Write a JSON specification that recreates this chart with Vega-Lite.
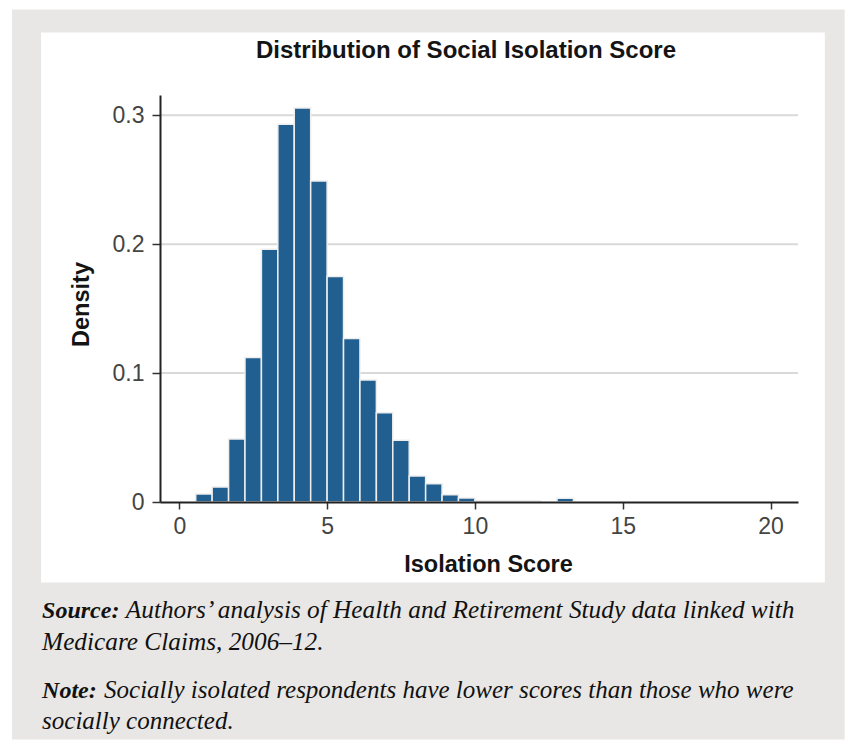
{
  "$schema": "https://vega.github.io/schema/vega-lite/v6.json",
  "width": 638,
  "height": 407,
  "autosize": {"type": "none"},
  "padding": {"left": 160, "top": 95, "right": 47, "bottom": 240},
  "background": "white",
  "config": {"view": {"stroke": null}, "font": "Liberation Sans"},
  "title": {
    "text": "Distribution of Social Isolation Score",
    "fontSize": 24,
    "fontWeight": "bold",
    "font": "Liberation Sans",
    "color": "#141414",
    "anchor": "middle",
    "frame": "group",
    "baseline": "alphabetic",
    "offset": -72,
    "dx": -13
  },
  "data": {
    "values": [
      {"bin_start": 0.5556, "bin_end": 1.1111, "density": 0.0062},
      {"bin_start": 1.1111, "bin_end": 1.6667, "density": 0.0116},
      {"bin_start": 1.6667, "bin_end": 2.2222, "density": 0.0489},
      {"bin_start": 2.2222, "bin_end": 2.7778, "density": 0.112},
      {"bin_start": 2.7778, "bin_end": 3.3333, "density": 0.196},
      {"bin_start": 3.3333, "bin_end": 3.8889, "density": 0.293},
      {"bin_start": 3.8889, "bin_end": 4.4444, "density": 0.3056},
      {"bin_start": 4.4444, "bin_end": 5.0, "density": 0.249},
      {"bin_start": 5.0, "bin_end": 5.5556, "density": 0.175},
      {"bin_start": 5.5556, "bin_end": 6.1111, "density": 0.1268},
      {"bin_start": 6.1111, "bin_end": 6.6667, "density": 0.0947},
      {"bin_start": 6.6667, "bin_end": 7.2222, "density": 0.0693},
      {"bin_start": 7.2222, "bin_end": 7.7778, "density": 0.0479},
      {"bin_start": 7.7778, "bin_end": 8.3333, "density": 0.0202},
      {"bin_start": 8.3333, "bin_end": 8.8889, "density": 0.0142},
      {"bin_start": 8.8889, "bin_end": 9.4444, "density": 0.0057},
      {"bin_start": 9.4444, "bin_end": 10.0, "density": 0.0031},
      {"bin_start": 10.0, "bin_end": 10.5556, "density": 0.0009},
      {"bin_start": 10.5556, "bin_end": 11.1111, "density": 0.0009},
      {"bin_start": 11.1111, "bin_end": 11.6667, "density": 0.0009},
      {"bin_start": 11.6667, "bin_end": 12.2222, "density": 0.0009},
      {"bin_start": 12.7778, "bin_end": 13.3333, "density": 0.003}
    ]
  },
  "layer": [
    {
      "data": {"values": [{}]},
      "mark": {"type": "rect", "fill": "#e8e7e5"},
      "encoding": {
        "x": {
          "datum": -5.658,
          "type": "quantitative",
          "scale": {"domain": [-0.653, 20.93], "nice": false, "zero": false},
          "axis": {
            "values": [0, 5, 10, 15, 20],
            "title": "Isolation Score",
            "grid": false,
            "zindex": 1,
            "domainColor": "#222222",
            "domainWidth": 2,
            "tickColor": "#333333",
            "tickWidth": 1.5,
            "tickSize": 7,
            "labelFont": "Liberation Sans",
            "labelFontSize": 23,
            "labelColor": "#444444",
            "labelPadding": 6,
            "titleFont": "Liberation Sans",
            "titleFontSize": 23.5,
            "titleFontWeight": "bold",
            "titleColor": "#141414",
            "titlePadding": 14,
            "titleX": 328
          }
        },
        "x2": {"datum": 22.51},
        "y": {
          "datum": 0.382,
          "type": "quantitative",
          "scale": {"domain": [0, 0.3157], "nice": false, "zero": false},
          "axis": {
            "values": [0, 0.1, 0.2, 0.3],
            "labelExpr": "datum.value == 0 ? '0' : format(datum.value, '.1f')",
            "title": "Density",
            "grid": false,
            "zindex": 1,
            "domainColor": "#222222",
            "domainWidth": 2,
            "tickColor": "#333333",
            "tickWidth": 1.5,
            "tickSize": 8,
            "labelFont": "Liberation Sans",
            "labelFontSize": 23,
            "labelColor": "#444444",
            "labelPadding": 8,
            "titleFont": "Liberation Sans",
            "titleFontSize": 23.5,
            "titleFontWeight": "bold",
            "titleColor": "#141414",
            "titlePadding": 19,
            "titleY": 209
          }
        },
        "y2": {"datum": -0.1842}
      }
    },
    {
      "data": {"values": [{}]},
      "mark": {"type": "rect", "fill": "white"},
      "encoding": {
        "x": {"datum": -4.677, "type": "quantitative"},
        "x2": {"datum": 21.837},
        "y": {"datum": 0.3642, "type": "quantitative"},
        "y2": {"datum": -0.0624}
      }
    },
    {
      "data": {"values": [{"grid": 0.1}, {"grid": 0.2}, {"grid": 0.3}]},
      "mark": {"type": "rule", "color": "#d9d9d9", "strokeWidth": 2},
      "encoding": {
        "y": {"field": "grid", "type": "quantitative"},
        "x": {"datum": -0.653, "type": "quantitative"},
        "x2": {"datum": 20.93}
      }
    },
    {
      "mark": {"type": "rect", "fill": "#205f8f", "stroke": "#eeeeee", "strokeWidth": 1.5},
      "encoding": {
        "x": {"field": "bin_start", "type": "quantitative"},
        "x2": {"field": "bin_end"},
        "y": {"field": "density", "type": "quantitative"},
        "y2": {"datum": 0}
      }
    },
    {
      "data": {"values": [{"t": "Source:"}]},
      "mark": {"type": "text", "font": "Liberation Serif", "fontStyle": "italic", "fontWeight": "bold", "fontSize": 24, "align": "left", "baseline": "alphabetic", "color": "#111111"},
      "encoding": {"text": {"field": "t"}, "x": {"datum": -4.643, "type": "quantitative"}, "y": {"datum": -0.0896, "type": "quantitative"}}
    },
    {
      "data": {"values": [{"t": "Authors’ analysis of Health and Retirement Study data linked with"}]},
      "mark": {"type": "text", "font": "Liberation Serif", "fontStyle": "italic", "fontSize": 25.3, "align": "left", "baseline": "alphabetic", "color": "#111111"},
      "encoding": {"text": {"field": "t"}, "x": {"datum": -1.81, "type": "quantitative"}, "y": {"datum": -0.0896, "type": "quantitative"}}
    },
    {
      "data": {"values": [{"t": "Medicare Claims, 2006–12."}]},
      "mark": {"type": "text", "font": "Liberation Serif", "fontStyle": "italic", "fontSize": 25.3, "align": "left", "baseline": "alphabetic", "color": "#111111"},
      "encoding": {"text": {"field": "t"}, "x": {"datum": -4.643, "type": "quantitative"}, "y": {"datum": -0.1145, "type": "quantitative"}}
    },
    {
      "data": {"values": [{"t": "Note:"}]},
      "mark": {"type": "text", "font": "Liberation Serif", "fontStyle": "italic", "fontWeight": "bold", "fontSize": 24, "align": "left", "baseline": "alphabetic", "color": "#111111"},
      "encoding": {"text": {"field": "t"}, "x": {"datum": -4.643, "type": "quantitative"}, "y": {"datum": -0.1517, "type": "quantitative"}}
    },
    {
      "data": {"values": [{"t": "Socially isolated respondents have lower scores than those who were"}]},
      "mark": {"type": "text", "font": "Liberation Serif", "fontStyle": "italic", "fontSize": 25, "align": "left", "baseline": "alphabetic", "color": "#111111"},
      "encoding": {"text": {"field": "t"}, "x": {"datum": -2.546, "type": "quantitative"}, "y": {"datum": -0.1517, "type": "quantitative"}}
    },
    {
      "data": {"values": [{"t": "socially connected."}]},
      "mark": {"type": "text", "font": "Liberation Serif", "fontStyle": "italic", "fontSize": 25, "align": "left", "baseline": "alphabetic", "color": "#111111"},
      "encoding": {"text": {"field": "t"}, "x": {"datum": -4.643, "type": "quantitative"}, "y": {"datum": -0.1758, "type": "quantitative"}}
    }
  ]
}
